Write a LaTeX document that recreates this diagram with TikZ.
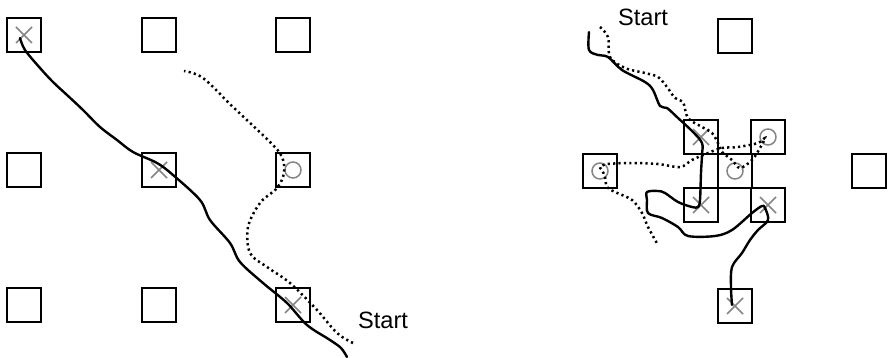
\documentclass[tikz,border=0pt]{standalone}
\usepackage{fontspec}
\setmainfont{Liberation Sans}
\usepackage{xcolor}
\definecolor{markgray}{gray}{0.52}
\newcommand{\crossmark}[1]{\draw[hitmark] (#1.center) ++(-8,-8) -- ++(16,16) ++(0,-16) -- ++(-16,16);}
\newcommand{\ringmark}[1]{\draw[hitmark] (#1.center) circle[radius=8];}

\begin{document}
\begin{tikzpicture}[x=0.5pt,y=-0.5pt,
  cell/.style={draw,line width=0.95pt,minimum size=16.6pt,inner sep=0pt},
  hitmark/.style={draw=markgray,line width=0.75pt},
  walk/.style={line width=1.2pt,line join=round,line cap=round},
  probe/.style={line width=1.25pt,dash pattern=on 1.1pt off 1.6pt},
  label/.style={font=\fontsize{11.8}{14}\selectfont}]
  \useasboundingbox (0,0) rectangle (890,358);
  % coarse grid
  \node[cell] (L11) at (24,35){};
  \node[cell] (L12) at (159,35){};
  \node[cell] (L13) at (293,35){};
  \node[cell] (L21) at (24,170){};
  \node[cell] (L22) at (159,170){};
  \node[cell] (L23) at (293,170){};
  \node[cell] (L31) at (24,305){};
  \node[cell] (L32) at (159,305){};
  \node[cell] (L33) at (293,305){};
  \crossmark{L11}
  \crossmark{L22}
  \ringmark{L23}
  \crossmark{L33}
  \node[label] (startL) at (383,320){Start};
  \draw[walk] plot[smooth,tension=0.55] coordinates {(347,357) (341,348) (330,340)
    (307,325) (287,303) (263,283) (240,262) (230,243) (210,220) (200,200)
    (173,175) (157,163) (133,152) (117,140) (100,127) (83,110) (67,95)
    (53,82) (40,68) (25,50) (20,38)};
  \draw[probe] plot[smooth,tension=0.55] coordinates {(353,343) (337,333) (317,310)
    (290,283) (267,267) (250,253) (248,227) (260,203) (277,188) (284,173)
    (282,157) (270,142) (233,107) (203,78) (184,71)};
  % refined grid
  \node[cell] (Rtop) at (735,36){};
  \node[cell] (Rleft) at (600,171){};
  \node[cell] (Rright) at (869,171){};
  \node[cell] (Rbottom) at (735,306){};
  \node[cell] (C11) at (701,137){};
  \node[cell] (C13) at (768,137){};
  \node[cell] (C22) at (735,171){};
  \node[cell] (C31) at (701,205){};
  \node[cell] (C33) at (768,205){};
  \crossmark{C11}
  \ringmark{C13}
  \ringmark{C22}
  \crossmark{C31}
  \crossmark{C33}
  \ringmark{Rleft}
  \crossmark{Rbottom}
  \node[label] (startR) at (643,17){Start};
  \draw[walk] plot[smooth,tension=0.55] coordinates {(589,32) (589,50) (598,55)
    (608,57) (622,70) (645,82) (653,90) (660,106) (667,108) (678,118)
    (693,132) (702,143) (702,155) (701,173) (700,200) (698,207) (692,207)
    (678,202) (665,193) (658,191) (647,192) (647,200) (648,213) (662,218)
    (678,227) (688,236) (715,236) (732,230) (752,213) (762,206) (765,208)
    (768,220) (758,230) (750,240) (742,253) (732,267) (731,287) (732,305)};
  \draw[probe] plot[smooth,tension=0.55] coordinates {(600,27) (608,37) (610,57)
    (625,68) (645,73) (658,77) (667,87) (675,98) (683,102) (688,118)
    (702,127) (712,133) (718,143) (722,152) (732,160) (740,168) (752,160)
    (760,148) (765,138) (758,143) (738,147) (722,148) (708,153) (692,160)
    (680,167) (658,164) (632,163) (608,164) (600,167) (602,170) (605,177)
    (607,187) (615,192) (632,200) (642,213) (648,227) (658,245)};
\end{tikzpicture}
\end{document}
